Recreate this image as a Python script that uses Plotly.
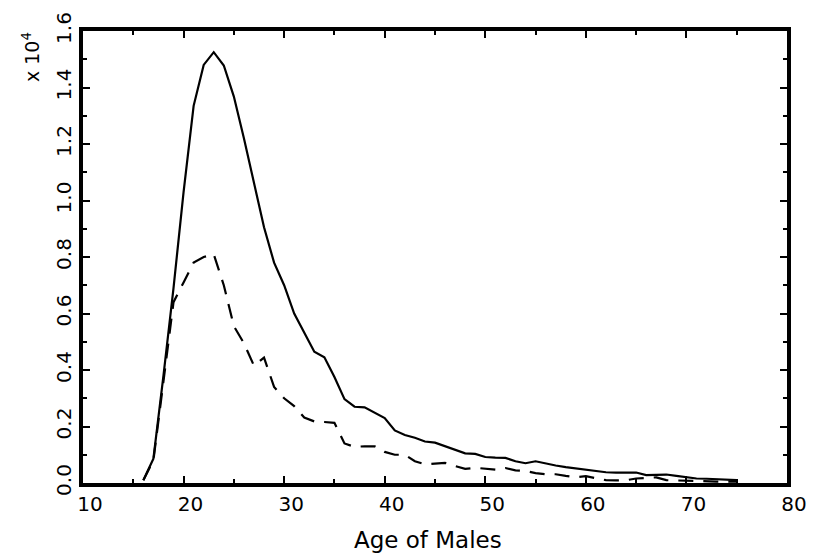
import plotly.graph_objects as go

# Age in years
ages = list(range(16, 76))

# Counts in units of 10^4
solid_vals = [
    0.010, 0.086, 0.380, 0.690, 1.030, 1.335, 1.480, 1.525, 1.478, 1.368,
    1.220, 1.060, 0.905, 0.780, 0.700, 0.600, 0.535, 0.465, 0.445, 0.375,
    0.297, 0.270, 0.268, 0.250, 0.230, 0.186, 0.170, 0.160, 0.147, 0.143,
    0.130, 0.117, 0.105, 0.103, 0.092, 0.090, 0.089, 0.077, 0.070, 0.077,
    0.069, 0.062, 0.056, 0.051, 0.047, 0.043, 0.038, 0.037, 0.037, 0.037,
    0.028, 0.029, 0.030, 0.025, 0.020, 0.016, 0.015, 0.013, 0.011, 0.010,
]
dashed_vals = [
    0.010, 0.080, 0.360, 0.640, 0.710, 0.780, 0.800, 0.810, 0.700, 0.555,
    0.495, 0.415, 0.444, 0.340, 0.300, 0.272, 0.232, 0.218, 0.216, 0.213,
    0.140, 0.128, 0.130, 0.130, 0.110, 0.100, 0.100, 0.077, 0.066, 0.068,
    0.071, 0.060, 0.050, 0.054, 0.050, 0.047, 0.053, 0.045, 0.043, 0.035,
    0.031, 0.031, 0.025, 0.020, 0.024, 0.017, 0.010, 0.009, 0.010, 0.016,
    0.018, 0.020, 0.010, 0.009, 0.008, 0.005, 0.005, 0.005, 0.005, 0.005,
]

x_ticks = [10, 20, 30, 40, 50, 60, 70, 80]
y_ticks = [0.0, 0.2, 0.4, 0.6, 0.8, 1.0, 1.2, 1.4, 1.6]
y_tick_text = [f"{v:.1f}" for v in y_ticks]

FONT = "DejaVu Sans"

fig = go.Figure()
fig.add_trace(go.Scatter(
    x=ages, y=solid_vals, mode="lines",
    line=dict(color="black", width=2.2),
    showlegend=False,
))
fig.add_trace(go.Scatter(
    x=ages, y=dashed_vals, mode="lines",
    line=dict(color="black", width=2.2, dash="15px,10px"),
    showlegend=False,
))

axis_common = dict(
    showline=True, linecolor="black", linewidth=3.5, mirror="allticks",
    ticks="inside", ticklen=7, tickwidth=2, tickcolor="black",
    showgrid=False, zeroline=False,
    tickfont=dict(family=FONT, size=20, color="black"),
)

fig.update_xaxes(
    range=[10, 80], tickvals=x_ticks, ticktext=[str(v) for v in x_ticks],
    minor=dict(dtick=5, tick0=0, ticks="inside", ticklen=4, tickwidth=2,
               tickcolor="black", showgrid=False),
    ticklabelshift=7,
    **axis_common,
)
fig.update_yaxes(
    range=[0, 1.6], tickvals=y_ticks, ticktext=y_tick_text, tickangle=-90,
    minor=dict(dtick=0.1, tick0=0, ticks="inside", ticklen=4, tickwidth=2,
               tickcolor="black", showgrid=False),
    **axis_common,
)

fig.add_annotation(
    text="Age of Males", xref="paper", yref="paper", x=0.5, y=0,
    xanchor="center", yanchor="middle", xshift=-7, yshift=-57,
    showarrow=False, font=dict(family=FONT, size=23, color="black"),
)
fig.add_annotation(
    text="x 10<sup>4</sup>", xref="paper", yref="paper", x=0, y=1,
    xanchor="center", yanchor="middle", xshift=-52, yshift=-26,
    textangle=-90, showarrow=False,
    font=dict(family=FONT, size=19, color="black"),
)

fig.update_layout(
    width=819, height=558,
    margin=dict(l=83, r=25, t=22, b=75),
    paper_bgcolor="white", plot_bgcolor="white",
)

fig.write_html("out.html")
